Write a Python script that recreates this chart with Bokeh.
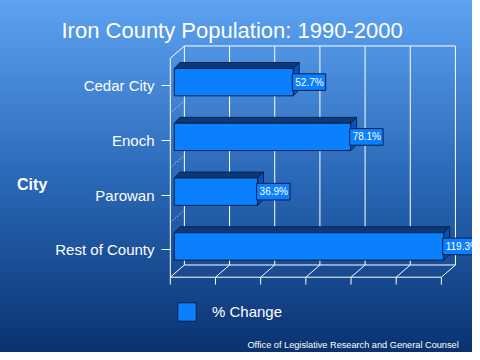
from bokeh.plotting import figure
from bokeh.models import Range1d, Legend, LegendItem, FixedTicker
from bokeh.core.properties import value
from bokeh.embed import file_html
from bokeh.resources import INLINE

# ---- data ----
cities = ["Cedar City", "Enoch", "Parowan", "Rest of County"]
pct_change = [52.7, 78.1, 36.9, 119.3]
pct_labels = ["52.7%", "78.1%", "36.9%", "119.3%"]
x_ticks = [0, 20, 40, 60, 80, 100, 120]
title_text = "Iron County Population: 1990-2000"
axis_title = "City"
legend_label = "% Change"
footnote = "Office of Legislative Research and General Counsel"

# ---- layout constants (pixels) ----
W, H = 472, 352
SX, SY = W / 480, H / 360     # reference -> figure pixel scale
XPX = 2.297 * SX              # px per % unit
YPX = 56.0 * SY               # px per category
FL, FT, FB = 165, 43, 0       # frame left / top / bottom border in figure px
X0 = 172.7 * SX               # figure px of x = 0
YB = 283.0 * SY               # figure px of y = -0.5
FONT = "Liberation Sans"

FRONT = "#0a80ff"
TOPC = "#0b3a7a"
SIDE = "#0b52b8"
EDGE = "#08204a"

n = len(cities)
ypos = [n - 1 - i for i in range(n)]

x_start = -(X0 - FL) / XPX
x_end = (W - X0) / XPX
y_start = -0.5 - ((H - FB) - YB) / YPX
y_end = -0.5 + (YB - FT) / YPX


def fig_y(py):
    """figure pixel row -> data y"""
    return -0.5 - (py - YB) / YPX


def fig_x(px):
    """figure pixel column -> data x"""
    return (px - X0) / XPX


p = figure(width=W, height=H, output_backend="svg", toolbar_location=None,
           x_range=Range1d(x_start, x_end), y_range=Range1d(y_start, y_end),
           x_axis_location=None, min_border_left=FL, min_border_top=FT,
           min_border_right=0, min_border_bottom=FB)
p.background_fill_color = None
p.border_fill_color = None
p.outline_line_color = None
p.styles = {"background": "linear-gradient(to bottom, #5da3f2 0%, #2a69b8 50%, #0a3270 100%)"}
p.xgrid.grid_line_color = None
p.ygrid.grid_line_color = None

# title
p.title.text = title_text
p.title.text_font = FONT
p.title.text_font_size = "22px"
p.title.text_font_style = "normal"
p.title.text_color = "white"
p.title.align = "left"
p.title.offset = -104
p.title.standoff = 2

# y axis
ya = p.yaxis[0]
ya.ticker = FixedTicker(ticks=ypos)
ya.major_label_overrides = {y: c for y, c in zip(ypos, cities)}
ya.axis_line_color = None
ya.major_tick_line_color = "white"
ya.major_tick_out = 4
ya.major_tick_in = 5
ya.minor_tick_line_color = None
ya.major_label_standoff = 7
ya.major_label_text_font = FONT
ya.major_label_text_font_size = "15px"
ya.major_label_text_color = "white"
ya.axis_label = axis_title + "\n"
ya.axis_label_text_font = FONT
ya.axis_label_text_font_size = "16px"
ya.axis_label_text_font_style = "bold"
ya.axis_label_text_color = "white"
ya.axis_label_text_line_height = 1.6
ya.axis_label_standoff = 5
ya.axis_label_orientation = "horizontal"

# ---- 3D frame (walls, floor) ----
DXB = 14.3 * SX / XPX
DYB = 12.5 * SY / YPX
ytop = n - 0.5
ybot = -0.5
xmax = x_ticks[-1]

# back wall gridlines
p.segment(x0=[t + DXB for t in x_ticks], y0=[ybot + DYB] * len(x_ticks),
          x1=[t + DXB for t in x_ticks], y1=[ytop + DYB] * len(x_ticks),
          line_color="white", line_width=1)
# back top & back floor lines
p.segment(x0=[DXB, DXB], y0=[ytop + DYB, ybot + DYB],
          x1=[xmax + DXB, xmax + DXB], y1=[ytop + DYB, ybot + DYB],
          line_color="white", line_width=1)
# floor diagonals
p.segment(x0=x_ticks, y0=[ybot] * len(x_ticks),
          x1=[t + DXB for t in x_ticks], y1=[ybot + DYB] * len(x_ticks),
          line_color="white", line_width=1)
# front floor line and ticks
p.segment(x0=[0], y0=[ybot], x1=[xmax], y1=[ybot], line_color="white", line_width=1)
p.segment(x0=x_ticks, y0=[ybot] * len(x_ticks), x1=x_ticks,
          y1=[ybot - 7.5 * SY / YPX] * len(x_ticks), line_color="white", line_width=1)
# left wall
p.segment(x0=[0, 0], y0=[ybot, ytop], x1=[0, DXB], y1=[ytop, ytop + DYB],
          line_color="white", line_width=1)
bnds = [y + 0.5 for y in range(n - 1)]
p.segment(x0=[0] * len(bnds), y0=bnds, x1=[DXB] * len(bnds), y1=[b + DYB for b in bnds],
          line_color="white", line_width=1, line_dash="1 2")

# ---- 3D bars ----
FDX = 4 * SX / XPX
FDY = 3.5 * SY / YPX
HH = 14 * SY / YPX
DDX = 6 * SX / XPX
DDY = 6 * SY / YPX

L = [FDX] * n
R = [v + FDX for v in pct_change]
YC = [y + FDY for y in ypos]
B = [c - HH for c in YC]
T = [c + HH for c in YC]

top_xs = [[l, r, r + DDX, l + DDX] for l, r in zip(L, R)]
top_ys = [[t, t, t + DDY, t + DDY] for t in T]
side_xs = [[r, r + DDX, r + DDX, r] for r in R]
side_ys = [[b, b + DDY, t + DDY, t] for b, t in zip(B, T)]
p.patches(top_xs, top_ys, fill_color=TOPC, line_color=EDGE, line_width=1)
p.patches(side_xs, side_ys, fill_color=SIDE, line_color=EDGE, line_width=1)
front = p.quad(left=L, right=R, bottom=B, top=T, fill_color=FRONT,
               line_color=EDGE, line_width=1)

# value labels
BW = 34 * SX / XPX
BH = 8.5 * SY / YPX
p.quad(left=[r - 1 / XPX for r in R], right=[r - 1 / XPX + BW for r in R],
       bottom=[c - BH for c in YC], top=[c + BH for c in YC],
       fill_color=FRONT, line_color=EDGE, line_width=1)
p.text(x=[r + 2 / XPX for r in R], y=YC, text=pct_labels,
       text_font=value(FONT), text_font_size="10px", text_color="white",
       text_align="left", text_baseline="middle")

# legend
GW = 23
legend = Legend(items=[LegendItem(label=legend_label, renderers=[front])],
                location=(10, (H - FB) - 323.3), padding=0, margin=0, spacing=0,
                border_line_color=None, background_fill_alpha=0,
                glyph_width=GW, glyph_height=GW, label_height=GW,
                label_standoff=14, label_text_color="white",
                label_text_font=FONT, label_text_font_size="15px")
p.add_layout(legend)

# footnote
p.text(x=[fig_x(458.2)], y=[fig_y(344.6)], text=[footnote],
       text_font=value(FONT), text_font_size="9.2px", text_color="white",
       text_align="right", text_baseline="middle")

open("out.html", "w").write(file_html(p, INLINE))
